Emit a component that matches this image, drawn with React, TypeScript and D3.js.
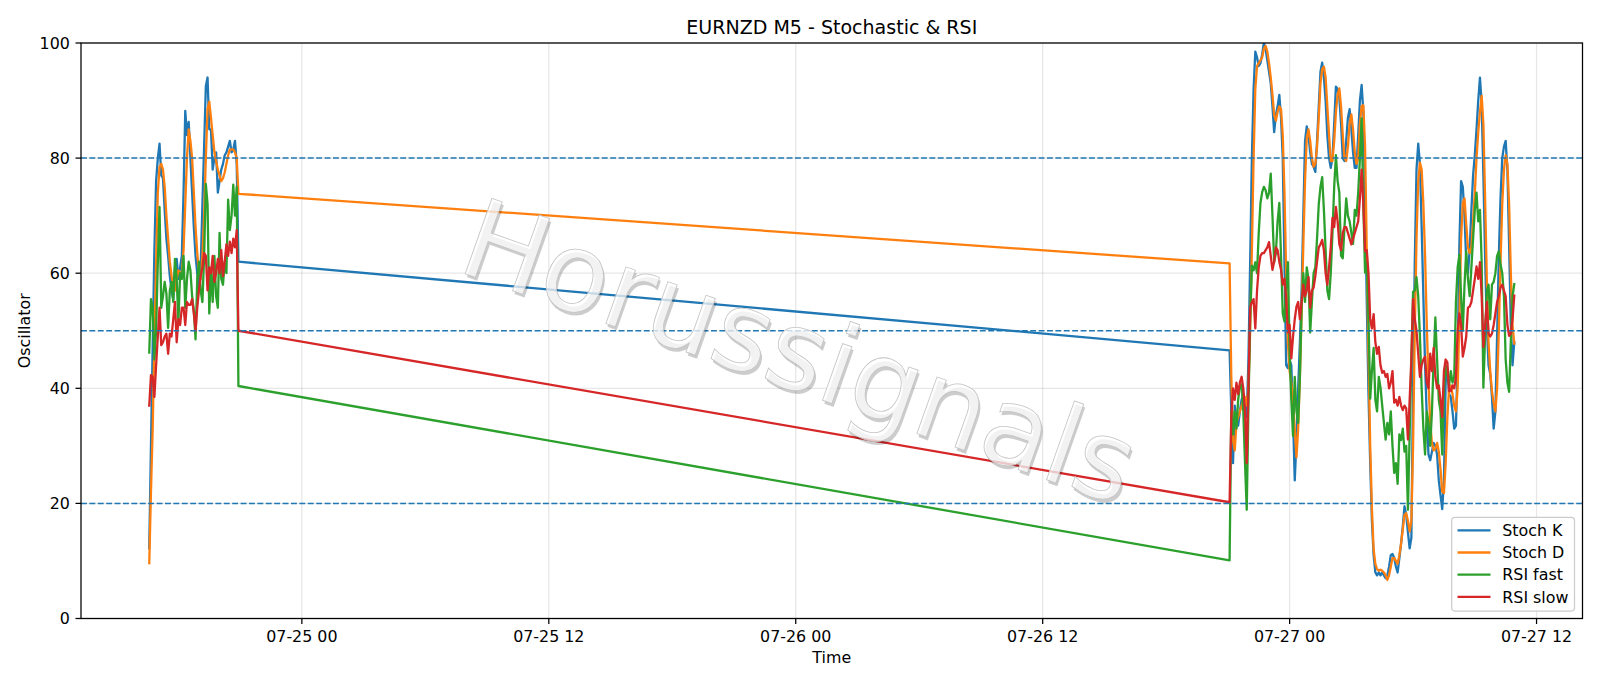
import React from 'react';
import * as d3 from 'd3';

const WIDTH = 1600;
const HEIGHT = 686;

const title = 'EURNZD M5 - Stochastic & RSI';
const xLabel = 'Time';
const yLabel = 'Oscillator';
const watermark = 'Horussignals';

// Two sessions of 5-minute bars (UTC): Friday afternoon and Sunday night -> Monday morning
const sessionStarts = ['2020-07-24T16:35:00Z', '2020-07-26T21:05:00Z'];
const barStepMinutes = 5;

// ---- Session 1 (53 bars) ----
const stochK1 = [
  12.2, 30, 47, 64, 76, 80, 82.5, 77, 76.5, 71,
  66, 63, 59.5, 57, 55.5, 61, 62.5, 59, 61, 63,
  74, 88.2, 84, 86.3, 80, 74, 68, 63, 60, 57,
  61, 72, 82, 92.5, 94, 85, 85, 78, 80, 81,
  74, 76, 78, 79, 80.5, 81, 82, 83, 81, 81.5,
  83, 79, 62,
];
const stochD1 = [
  9.6, 22, 33, 48, 62, 74, 78.5, 79, 78, 75,
  70, 66, 62, 59.5, 57.5, 57, 59, 60.5, 60, 60,
  64, 72, 80, 85, 83, 80, 74, 68, 63.5, 60,
  59, 63, 70, 80, 88.5, 89.8, 87, 84, 81, 79.5,
  78, 77, 76, 76.5, 77.5, 79, 80.5, 81.5, 81.5, 81.5,
  81, 80, 73.8,
];
const rsiFast1 = [
  46.2, 55.5, 54, 45, 50, 62, 71.5, 54, 56, 58.5,
  56.5, 50.5, 57, 58.5, 55, 62.5, 59, 51.5, 60, 59,
  63, 54, 59, 62, 60.5, 56, 53.5, 48.5, 59, 62,
  57, 55, 63, 75.5, 72, 53, 60.5, 55, 63, 56,
  54, 67, 59, 58, 62, 60, 72.8, 67.5, 70, 75.4,
  70, 75, 40.4,
];
const rsiSlow1 = [
  37, 42.3, 42, 38.5, 44, 49, 54, 47.5, 48, 49,
  49.5, 46, 49.5, 49, 52, 55, 48, 52, 51, 54,
  54, 51, 55, 54.5, 54.5, 55.5, 53, 50, 54, 57,
  59.5, 61, 63.5, 63, 57, 61, 60, 63, 58.5, 60,
  62.5, 60, 64, 59.5, 62, 65, 63, 65.5, 63.5, 66,
  64.5, 67.5, 50,
];

// ---- Session 2 (167 bars) ----
const stochK2 = [
  46.6, 36, 27, 37, 35, 33.5, 36, 38, 39, 37,
  35, 45, 62, 80, 92, 98.5, 97.5, 96, 96.5, 98,
  100, 99, 97, 95, 93, 89, 84.5, 87.5, 89, 91,
  87, 80, 62, 44, 43.5, 45, 44, 35, 24, 31,
  40, 48, 57, 70, 83, 85.5, 84, 81, 79, 78.5,
  77.6, 83, 89, 95, 96.6, 94, 90, 84, 80, 78.3,
  80, 86, 92.4, 92, 90.5, 86, 80, 79.5, 83, 87,
  88.5, 85, 81, 78.3, 78.3, 84, 90, 92.7, 88, 74,
  55, 39, 27, 17, 11, 8, 7.5, 8, 7.5, 8,
  7.5, 7, 7.5, 9, 11, 11.2, 10.5, 9, 8, 10.5,
  13, 16, 19.5, 18, 15, 12.2, 14, 40, 62, 78,
  82.5, 79, 68, 56, 44, 35, 28.5, 27.5, 29, 30.5,
  30, 28.5, 24, 21.5, 19, 24, 41, 43.5, 39, 38.5,
  36, 33, 33.5, 45, 65, 76, 75, 70, 62, 60,
  64, 71, 77, 80.5, 85, 90, 94, 89.5, 77, 63,
  51, 44, 42.5, 38.5, 33, 36, 49, 63, 73, 80,
  82, 83, 78, 65, 51, 44, 48,
];
const stochD2 = [
  61.7, 42, 31, 29.2, 34, 35, 36, 37, 38, 38.5,
  37, 40, 50, 64, 80, 92, 96, 96.5, 97, 97.5,
  99, 99.5, 98.5, 96.5, 94, 91, 87.5, 86.5, 88, 89,
  88.5, 84, 74, 60, 48, 43, 41, 38, 33, 28,
  33, 42, 53, 65, 76, 83.5, 85, 83, 80, 78.5,
  79, 82, 87, 93, 95.5, 95.9, 94, 89, 84, 79.5,
  79.5, 83, 88, 91, 92.1, 89, 84, 80, 79.5, 82,
  86, 87.6, 85, 81, 79, 80, 86, 89, 89.2, 82,
  64, 46, 30, 19, 12, 9.5, 8.6, 8.3, 8.5, 8.3,
  8, 7.5, 6.7, 7.5, 9, 10.5, 10.5, 10, 9.5, 11,
  13, 15.5, 18, 18.3, 17, 15.1, 17, 30, 50, 66,
  76, 79.2, 78, 72, 63, 51, 41, 34, 30.5, 29.2,
  29.5, 30.5, 29, 26, 22, 21.8, 27, 35, 40, 40.5,
  39, 37, 36, 40, 52, 66, 72.2, 73, 68.5, 64.5,
  63.5, 64.5, 69, 74, 80, 84.5, 88, 90.8, 86, 73,
  59, 48, 43, 39.5, 37.5, 36, 40, 50, 62, 72,
  78, 80.5, 79, 72, 60, 51, 47.8,
];
const rsiFast2 = [
  10.1, 36, 32, 36, 33, 38, 40.4, 40.7, 36, 27,
  18.9, 37, 52, 61.3, 60.5, 61.9, 60, 67, 72.2, 74.1,
  75, 74.4, 73, 74, 77.3, 70, 62, 63.5, 69, 72.2,
  63, 53, 51.6, 58, 61.9, 46, 38, 31.7, 42, 36,
  34, 42, 54, 60, 55, 61, 59, 49.7, 55, 60,
  61, 66, 72, 75, 76.7, 71, 64, 57, 55.5, 60,
  67, 75, 80.5, 76, 74, 63, 62.6, 68, 73, 70,
  69, 67, 65.1, 71, 70, 74, 80, 86.9, 72, 60.1,
  62, 52, 38.2, 43, 47, 38, 36, 42, 40.1, 37,
  34, 31.1, 34, 32, 36, 30, 25.3, 27, 23.4, 32,
  31, 33, 29, 30, 18.9, 32, 45, 56.8, 57, 59.3,
  56, 49, 40, 33, 28.5, 36, 34, 30, 36, 45,
  52.3, 45, 38, 36, 28.5, 40, 44, 42.5, 40.5, 43,
  41, 42, 55, 61, 63.2, 56, 50, 58, 63.8, 59,
  56, 61, 66, 71, 74, 69, 71, 62, 40.1, 49,
  57, 58, 52, 58, 58.5, 60, 63, 63.8, 61.5, 60,
  56, 45, 41, 39.4, 48, 56, 58.1,
];
const rsiSlow2 = [
  20.2, 35, 40, 38, 41, 39, 41, 42, 40, 36,
  27, 40, 54, 55, 55.5, 50.4, 57, 61, 63, 63.5,
  63.5, 64, 64.5, 65.4, 63, 60.6, 62, 64.5, 64, 62,
  60.6, 58, 59, 55.5, 49.7, 51, 45.2, 49, 52, 54.2,
  55, 52, 55, 58, 56, 57, 59.3, 54, 57, 57.5,
  59.5, 62, 64.5, 65, 65.8, 64, 60, 58, 61, 64.5,
  69.6, 68, 71.5, 69, 65, 64, 67, 68, 68, 67,
  66, 65, 66, 67, 68, 69, 73, 78, 72, 63.8,
  64, 60, 52, 50.4, 52.9, 48, 46, 47.2, 44, 42.7,
  43, 42, 42.5, 40, 41, 43, 37.5, 38, 37, 38.5,
  37, 36.2, 37, 36.5, 31.1, 38, 45, 55.5, 52, 50,
  46, 42, 44, 45, 45.5, 41, 40, 46, 43, 47,
  42, 40, 40.5, 38, 35, 43, 45, 44.5, 39.5, 39.5,
  40.5, 40, 42, 50, 53, 51, 45.5, 47, 49, 54,
  54.2, 55, 57, 59, 61.2, 59, 61.9, 56, 47.2, 51,
  55, 49.5, 49, 49.5, 51, 53, 55, 56, 57.5, 58,
  57, 56, 51, 49.1, 49.5, 52, 56.1,
];

const seriesNames = ['Stoch K', 'Stoch D', 'RSI fast', 'RSI slow'];
const seriesColors = ['#1f77b4', '#ff7f0e', '#2ca02c', '#d62728'];
const session1Values = [stochK1, stochD1, rsiFast1, rsiSlow1];
const session2Values = [stochK2, stochD2, rsiFast2, rsiSlow2];

const levelValues = [80, 50, 20];
const yTickValues = [0, 20, 40, 60, 80, 100];

const FONT = '"DejaVu Sans", "Liberation Sans", sans-serif';

function sessionTimes(startIso: string, n: number): Date[] {
  const t0 = Date.parse(startIso);
  return d3.range(n).map((i) => new Date(t0 + i * barStepMinutes * 60000));
}

export default function App() {
  const plot = { left: 81, right: 1582.5, top: 43, bottom: 618.5 };

  const times1 = sessionTimes(sessionStarts[0], stochK1.length);
  const times2 = sessionTimes(sessionStarts[1], stochK2.length);
  const allTimes = [...times1, ...times2];
  const tMin = +allTimes[0];
  const tMax = +allTimes[allTimes.length - 1];
  const pad = (tMax - tMin) * 0.05;

  const x = d3
    .scaleUtc()
    .domain([new Date(tMin - pad), new Date(tMax + pad)])
    .range([plot.left, plot.right]);
  const y = d3.scaleLinear().domain([0, 100]).range([plot.bottom, plot.top]);

  const xTicks = x.ticks(d3.utcHour.every(12) as any);
  const fmt = d3.utcFormat('%m-%d %H');

  const line = d3
    .line<[Date, number]>()
    .x((d) => x(d[0]))
    .y((d) => y(d[1]));

  const series = seriesNames.map((name, s) => {
    const pts: [Date, number][] = [
      ...times1.map((t, i) => [t, session1Values[s][i]] as [Date, number]),
      ...times2.map((t, i) => [t, session2Values[s][i]] as [Date, number]),
    ];
    return { name, color: seriesColors[s], d: line(pts) || '' };
  });

  const fs = 15.87;
  const tickLen = 5.5;
  const legend = { x: 1451.7, y: 517.3, w: 122.8, h: 93.7 };
  const cx = (plot.left + plot.right) / 2;
  const cy = (plot.top + plot.bottom) / 2;

  return (
    <svg
      width={WIDTH}
      height={HEIGHT}
      viewBox={`0 0 ${WIDTH} ${HEIGHT}`}
      style={{ position: 'absolute', left: 0, top: 0, display: 'block', background: '#fff' }}
      fontFamily={FONT}
    >
      <rect x={0} y={0} width={WIDTH} height={HEIGHT} fill="#fff" />
      <defs>
        <clipPath id="plotClip">
          <rect x={plot.left} y={plot.top} width={plot.right - plot.left} height={plot.bottom - plot.top} />
        </clipPath>
      </defs>

      {/* grid */}
      <g stroke="#b0b0b0" strokeOpacity={0.3} strokeWidth={1.27}>
        {xTicks.map((t, i) => (
          <line key={'gx' + i} x1={x(t)} x2={x(t)} y1={plot.top} y2={plot.bottom} />
        ))}
        {yTickValues.map((v, i) => (
          <line key={'gy' + i} x1={plot.left} x2={plot.right} y1={y(v)} y2={y(v)} />
        ))}
      </g>

      {/* series */}
      <g clipPath="url(#plotClip)" fill="none" strokeWidth={2.3} strokeLinejoin="round" strokeLinecap="square">
        {series.map((s) => (
          <path key={s.name} d={s.d} stroke={s.color} />
        ))}
      </g>

      {/* level lines */}
      <g stroke="#1f77b4" strokeWidth={1.5} strokeDasharray="5.9,2.5">
        {levelValues.map((v) => (
          <line key={'lv' + v} x1={plot.left} x2={plot.right} y1={y(v)} y2={y(v)} />
        ))}
      </g>

      {/* spines */}
      <rect
        x={plot.left}
        y={plot.top}
        width={plot.right - plot.left}
        height={plot.bottom - plot.top}
        fill="none"
        stroke="#000"
        strokeWidth={1.25}
      />

      {/* x ticks */}
      <g fontSize={fs} fill="#000">
        {xTicks.map((t, i) => (
          <g key={'xt' + i}>
            <line x1={x(t)} x2={x(t)} y1={plot.bottom} y2={plot.bottom + tickLen} stroke="#000" strokeWidth={1.25} />
            <text x={x(t)} y={641.8} textAnchor="middle">
              {fmt(t)}
            </text>
          </g>
        ))}
      </g>

      {/* y ticks */}
      <g fontSize={fs} fill="#000">
        {yTickValues.map((v) => (
          <g key={'yt' + v}>
            <line x1={plot.left - tickLen} x2={plot.left} y1={y(v)} y2={y(v)} stroke="#000" strokeWidth={1.25} />
            <text x={plot.left - tickLen - 5.6} y={y(v) + 5.8} textAnchor="end">
              {v}
            </text>
          </g>
        ))}
      </g>

      {/* labels */}
      <text x={cx} y={662.5} textAnchor="middle" fontSize={fs}>
        {xLabel}
      </text>
      <text transform={`translate(30, ${cy}) rotate(-90)`} textAnchor="middle" fontSize={fs}>
        {yLabel}
      </text>
      <text x={cx} y={33.5} textAnchor="middle" fontSize={19.05}>
        {title}
      </text>

      {/* legend */}
      <g>
        <rect
          x={legend.x}
          y={legend.y}
          width={legend.w}
          height={legend.h}
          rx={3.2}
          ry={3.2}
          fill="#fff"
          fillOpacity={0.8}
          stroke="#cccccc"
          strokeWidth={1.25}
        />
        {series.map((s, i) => {
          const ly = 530.3 + i * 22.2;
          return (
            <g key={'lg' + i}>
              <line x1={1457.5} x2={1490.5} y1={ly} y2={ly} stroke={s.color} strokeWidth={2.3} />
              <text x={1502.3} y={ly + 5.7} fontSize={fs}>
                {s.name}
              </text>
            </g>
          );
        })}
      </g>

      {/* watermark */}
      <g transform="translate(800, 352) rotate(19.5)" fontSize={110} textAnchor="middle">
        <text x={2.6} y={2.6} dominantBaseline="central" fill="#000" fillOpacity={0.2}>
          {watermark}
        </text>
        <text
          x={0}
          y={0}
          dominantBaseline="central"
          fill="#ffffff"
          fillOpacity={0.75}
          stroke="#c4c4c4"
          strokeWidth={0.8}
        >
          {watermark}
        </text>
      </g>
    </svg>
  );
}
